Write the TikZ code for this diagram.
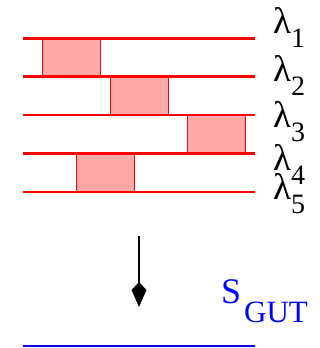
\documentclass[tikz,border=0pt]{standalone}
\usepackage{fontspec}
\setmainfont{Liberation Serif}
\usetikzlibrary{arrows.meta}
\definecolor{boxfill}{RGB}{255,168,168}
\tikzset{
  level/.style={draw=red, line width=2.4pt},
  cell/.style={draw=red, line width=0.9pt, fill=boxfill},
  lab/.style={anchor=base west, inner sep=0pt, font=\fontsize{37}{37}\selectfont},
  gut/.style={anchor=base west, inner sep=0pt, text=blue},
}
\newcommand{\lsub}[1]{\raisebox{-14pt}{\fontsize{28}{28}\selectfont #1}}
\begin{document}
\begin{tikzpicture}[x=1pt,y=-1pt]
\useasboundingbox (0,0) rectangle (320,348);
% boxes
\draw[cell] (42,38.5) rectangle (100,76.5);
\draw[cell] (110,76.5) rectangle (168,115);
\draw[cell] (187,115) rectangle (245,153.5);
\draw[cell] (76,153.5) rectangle (134,192);
% levels
\foreach \i/\y in {1/38.5,2/76.5,3/115,4/153.5,5/192}{
  \coordinate (l\i w) at (23,\y);
  \coordinate (l\i e) at (255,\y);
  \draw[level] (l\i w) -- (l\i e);
}
% labels
\node[lab] (lam1) at (273,33) {λ\lsub{1}};
\node[lab] (lam2) at (273,81) {λ\lsub{2}};
\node[lab] (lam3) at (273,127) {λ\lsub{3}};
\node[lab] (lam4) at (273,170) {λ\lsub{4}};
\node[lab] (lam5) at (273,199) {λ\lsub{5}};
% arrow
\coordinate (atop) at (139,236);
\coordinate (atip) at (139,307);
\draw[line width=1.6pt, -{Kite[length=25pt,width=15pt,inset=8pt]}] (atop) -- (atip);
% S_GUT
\node[gut, font=\fontsize{36}{36}\selectfont] (s) at (221,303) {S};
\node[gut, font=\fontsize{31}{31}\selectfont] (gutlab) at (244,322) {GUT};
% bottom line
\coordinate (bw) at (23,346);
\coordinate (be) at (255,346);
\draw[blue, line width=2pt] (bw) -- (be);
\end{tikzpicture}
\end{document}
